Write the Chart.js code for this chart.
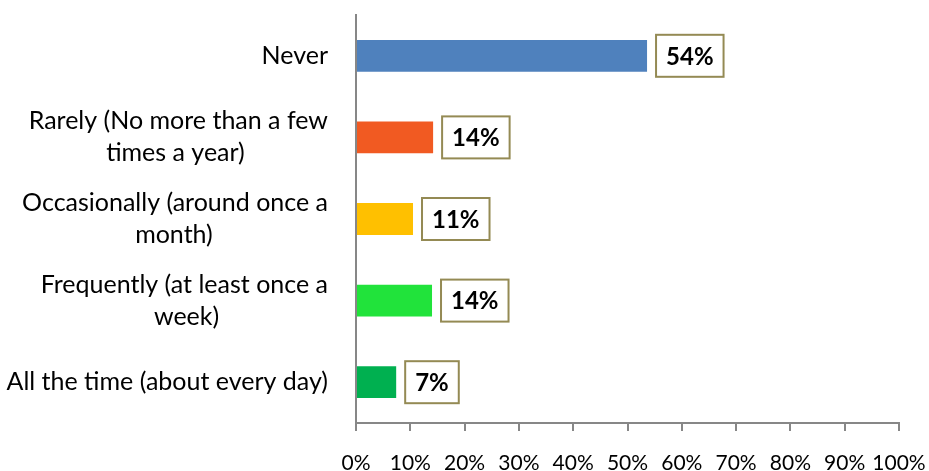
<!DOCTYPE html>
<html>
<head>
<meta charset="utf-8">
<script src="https://cdn.jsdelivr.net/npm/chart.js@4"></script>
<style>
  html, body { margin: 0; padding: 0; background: #fff; }
  #wrap { width: 929px; height: 471px; }
</style>
</head>
<body>
<div id="wrap"><canvas id="chart"></canvas></div>
<script>
const categories = [
  ["Never"],
  ["Rarely (No more than a few", "times a year)"],
  ["Occasionally (around once a", "month)"],
  ["Frequently (at least once a", "week)"],
  ["All the time (about every day)"]
];
const shares = [53.6, 14.2, 10.5, 14.0, 7.4];
const barColors = ["#4F81BD", "#F15A22", "#FFC000", "#21E33B", "#00B050"];
const xTicks = [0, 10, 20, 30, 40, 50, 60, 70, 80, 90, 100];

const FONT = "Lato";
const catFont = { family: FONT, size: 25, lineHeight: 1.28 };

// centre the wrapped lines on each other (chart.js right aligns them)
const measure = document.createElement("canvas").getContext("2d");
measure.font = catFont.size + "px " + FONT;
function centreLines(lines) {
  const widest = Math.max(...lines.map((l) => measure.measureText(l).width));
  const sp = measure.measureText("\u00a0").width;
  return lines.map((l) => {
    const n = Math.round((widest - measure.measureText(l).width) / 2 / sp);
    return l + "\u00a0".repeat(n);
  });
}

const boxLabels = {
  id: "boxLabels",
  afterDatasetsDraw(chart) {
    const ctx = chart.ctx;
    const meta = chart.getDatasetMeta(0);
    ctx.save();
    ctx.font = "bold 24px " + FONT;
    meta.data.forEach((bar, i) => {
      const text = Math.round(shares[i]) + "%";
      const w = ctx.measureText(text).width + 20;
      const h = 42;
      const x = bar.x + 9;
      const y = bar.y - h / 2;
      ctx.fillStyle = "#fff";
      ctx.fillRect(x, y, w, h);
      ctx.strokeStyle = "#948A54";
      ctx.lineWidth = 2;
      ctx.strokeRect(x, y, w, h);
      ctx.fillStyle = "#000";
      ctx.textAlign = "center";
      ctx.textBaseline = "middle";
      ctx.fillText(text, x + w / 2, bar.y + 1);
    });
    ctx.restore();
  },
};

new Chart(document.getElementById("chart"), {
  type: "bar",
  data: {
    labels: categories,
    datasets: [
      {
        data: shares,
        backgroundColor: barColors,
        categoryPercentage: 1,
        barPercentage: 0.39,
      },
    ],
  },
  plugins: [boxLabels],
  options: {
    indexAxis: "y",
    responsive: true,
    maintainAspectRatio: false,
    animation: false,
    layout: { padding: { top: 15, right: 30, left: 0, bottom: 0 } },
    plugins: {
      legend: { display: false },
      tooltip: { enabled: false },
    },
    scales: {
      x: {
        min: 0,
        max: 100,
        afterBuildTicks: (s) => { s.ticks = xTicks.map((v) => ({ value: v })); },
        afterFit: (s) => { s.height = 48; s.paddingLeft = 0; s.paddingRight = 0; },
        grid: {
          drawOnChartArea: false,
          drawTicks: true,
          tickLength: 8,
          color: "#878787",
          lineWidth: 2,
        },
        border: { display: true, color: "#878787", width: 2 },
        ticks: {
          autoSkip: false,
          padding: 20,
          color: "#000",
          font: { family: FONT, size: 21 },
          callback: (v) => v + "%",
          maxRotation: 0,
        },
      },
      y: {
        afterFit: (s) => { s.width = 356; s.paddingTop = 0; s.paddingBottom = 0; },
        grid: { display: false },
        border: { display: true, color: "#878787", width: 2 },
        ticks: {
          padding: 20,
          color: "#000",
          font: catFont,
          callback: function (v, i) { return centreLines(categories[i]); },
        },
      },
    },
  },
});
</script>
</body>
</html>
